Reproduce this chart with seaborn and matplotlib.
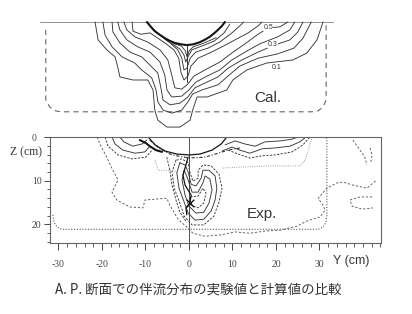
import matplotlib
matplotlib.use("Agg")
import matplotlib.pyplot as plt
import seaborn as sns

sns.set_theme(style="white")
plt.rcParams['font.family'] = ['Liberation Serif', 'DejaVu Serif']

INK = '#363636'
GREY = '#5a5a5a'
LIGHT = '#8f8f8f'

# ---------------- Calculated panel (Y, Z in cm) ----------------
cal_hull_y = [-9.4, -8.5, -7.6, -6.5, -5.3, -4.2, -3.0, -1.6, -0.2, 1.3, 2.8, 4.0, 5.0, 6.0, 6.9, 7.8, 8.5]
cal_hull_z = [0, 1.1, 2.1, 2.9, 3.7, 4.3, 4.8, 5.1, 5.3, 5.1, 4.6, 4.0, 3.4, 2.6, 1.8, 0.9, 0]

cal_c1_y = [-21.3, -20.6, -18.6, -16.7, -16.1, -15.6, -12.6, -9.2, -8.0, -7.6, -6.9, -4.8, -1.8, 0.5, 1.1, 2.1, 4.4, 8.9, 10.3, 13.5, 18.1, 24.1, 27.3, 29.6, 31.0]
cal_c1_z = [0, 4.1, 6.4, 8.0, 10.3, 12.6, 13.3, 13.3, 15.6, 20.2, 22.5, 24.1, 24.1, 22.5, 20.2, 17.2, 17.2, 15.6, 13.3, 11.0, 9.4, 8.7, 7.1, 4.1, 0]

cal_c2_y = [-19.5, -19.0, -17.4, -15.1, -12.2, -10.6, -8.3, -7.3, -6.9, -5.7, -3.7, -1.4, 0, 1.1, 3.2, 6.9, 9.2, 11.9, 16.1, 20.6, 24.3, 26.4, 28.3]
cal_c2_z = [0, 3.0, 5.7, 8.0, 9.4, 11.0, 12.8, 15.6, 18.3, 20.2, 20.9, 20.2, 18.3, 16.5, 15.6, 14.4, 12.4, 10.1, 8.3, 7.3, 6.0, 3.7, 0]

cal_c3_y = [-17.4, -17.2, -15.6, -13.3, -10.6, -8.7, -6.9, -6.2, -5.7, -4.1, -1.8, 0, 1.6, 3.9, 6.9, 9.2, 12.4, 16.1, 19.3, 23.4, 25.2, 26.4]
cal_c3_z = [0, 2.3, 4.8, 6.9, 8.0, 9.9, 11.7, 15.1, 17.9, 19.0, 18.6, 17.2, 15.1, 14.0, 12.6, 10.6, 8.7, 6.9, 5.5, 4.1, 2.3, 0]

cal_c4_y = [-16.1, -15.6, -14.0, -11.5, -8.7, -6.4, -5.3, -4.8, -3.7, -1.4, 0.2, 1.8, 4.4, 7.3, 10.1, 13.1, 16.5, 20.6, 23.4, 24.5]
cal_c4_z = [0, 1.8, 4.1, 5.7, 6.9, 9.2, 12.2, 15.6, 17.2, 17.0, 15.6, 13.8, 12.4, 11.0, 8.7, 6.9, 5.0, 3.4, 1.8, 0]

cal_c5_y = [-14.7, -14.0, -12.2, -9.2, -6.4, -4.6, -3.7, -3.0, -1.4, 0, 1.4, 3.9, 7.3, 10.1, 13.1, 16.1, 18.3, 21.1, 22.9]
cal_c5_z = [0, 1.8, 3.4, 4.6, 6.4, 8.7, 12.2, 15.1, 15.4, 14.2, 12.4, 11.0, 9.2, 7.1, 5.0, 2.8, 1.4, 1.1, 0]

cal_c6_y = [-12.8, -12.6, -10.8, -8.7, -6.9, -5.0, -3.2, -2.1, -1.6, -0.9, 0, 0.7, 2.3, 5.0, 7.8, 10.8, 13.8, 16.1, 17.0]
cal_c6_z = [0, 2.1, 2.8, 2.5, 3.7, 5.0, 6.4, 8.3, 11.5, 13.3, 12.4, 10.1, 8.3, 7.1, 5.7, 4.1, 2.5, 0.9, 0]

cal_c7_y = [-8.3, -6.4, -4.1, -2.3, -1.4, -0.9, -0.2, 0.5, 1.8, 4.6, 7.3, 10.1, 11.9, 12.8]
cal_c7_z = [1.4, 3.0, 4.8, 6.4, 8.3, 11.0, 10.6, 8.3, 6.9, 6.0, 4.6, 2.5, 0.9, 0]

cal_c8_y = [-5.3, -3.7, -1.8, -0.9, -0.5, 0, 0.9, 3.2, 6.0, 8.3, 9.6]
cal_c8_z = [3.9, 5.0, 6.2, 7.6, 9.2, 8.0, 6.4, 5.5, 4.4, 2.5, 0.5]

cal_c9_y = [-3.5, -1.5, -0.6, -0.2, 0.3, 1.2, 3.5, 6.5]
cal_c9_z = [4.9, 5.5, 6.6, 8.0, 6.6, 5.7, 4.9, 3.6]

cal_center_y = [-0.2, -0.2]
cal_center_z = [5.3, 13.8]

cal_box_y = [-32.6, -32.6, -31.7, -30.3, -28.9, 28.4, 29.8, 31.0, 31.7, 31.7]
cal_box_z = [1.8, 17.9, 19.5, 20.4, 20.6, 20.6, 20.4, 19.5, 17.9, 0]

cal_top_y = [-34.0, 33.3]
cal_top_z = [0, 0]

cal_labels = ['0.5', '0.3', '0.1']
cal_label_y = [18.4, 19.4, 20.4]
cal_label_z = [1.2, 5.2, 10.4]

# ---------------- Experimental panel (Y, Z in cm) ----------------
exp_hull_y = [-9.4, -7.8, -5.5, -2.8, 0, 2.5, 5.3, 7.4, 8.7]
exp_hull_z = [0, 1.8, 3.2, 3.9, 4.1, 3.9, 3.0, 1.6, 0]

exp_under_y = [-9.0, -6.7, -3.9, 0, 3.7, 6.7, 9.0, 11.7]
exp_under_z = [0.7, 2.7, 4.1, 4.8, 4.6, 3.7, 3.0, 2.5]

exp_l1_y = [-17.7, -17.0, -15.2, -12.4, -10.1, -9.0]
exp_l1_z = [0, 1.6, 3.0, 3.7, 3.4, 2.1]
exp_l2_y = [-19.3, -18.6, -16.3, -13.1, -9.9, -8.5]
exp_l2_z = [0, 2.1, 4.1, 5.0, 4.6, 3.0]
exp_l3_y = [-15.9, -15.0, -12.9, -10.8, -9.7]
exp_l3_z = [0, 1.1, 2.1, 1.6, 0.7]
exp_jag_y = [-11.3, -9.9, -9.0, -7.6, -6.2]
exp_jag_z = [0.7, 1.4, 2.1, 3.0, 3.4]

exp_big_y = [-21.1, -20.4, -18.9, -17.5, -16.3, -17.7, -16.6, -13.6, -10.6, -10.1, -5.1, -4.4, -2.5, -0.5,
             0.9, 3.7, 7.1, 10.6, 14.0, 17.5, 20.9, 24.8, 27.1, 30.1, 31.3, 30.8, 29.7, 31.7, 34.0, 35.4,
             37.7, 40.9, 43.2]
exp_big_z = [0, 1.8, 4.6, 7.6, 9.8, 12.6, 14.4, 16.0, 16.2, 14.4, 14.0, 15.6, 18.8, 20.6,
             22.0, 22.7, 22.4, 21.7, 22.0, 21.5, 21.3, 20.4, 19.2, 18.3, 16.7, 15.6, 14.0, 11.7, 10.5, 10.3,
             11.0, 11.7, 9.8]

exp_k1_y = [-3.0, -3.9, -3.4, -2.1, -1.1, 0.7, 3.4, 5.7, 6.9, 7.6, 6.9, 5.1, 3.2, 2.1, 2.1, 0.9, 0.2, -0.2, -1.6, -3.0]
exp_k1_z = [5.3, 8.0, 11.7, 15.1, 18.1, 20.1, 20.1, 18.1, 14.9, 11.7, 8.5, 6.6, 6.4, 7.6, 9.4, 10.1, 8.0, 5.9, 5.0, 5.3]
exp_k2_y = [-2.1, -2.8, -2.3, -1.1, -0.2, 1.4, 3.4, 5.1, 6.0, 6.4, 6.0, 4.6, 3.2, 2.8, 1.6, 0.5, -0.2, -0.9, -2.1]
exp_k2_z = [5.9, 8.2, 11.7, 14.9, 17.4, 19.0, 18.8, 16.9, 14.4, 11.7, 8.9, 7.6, 7.6, 9.4, 11.2, 10.8, 8.0, 6.4, 5.9]
exp_k3_y = [-1.1, -1.6, -0.9, 0, 1.6, 3.4, 4.6, 5.3, 4.8, 3.7, 3.2, 2.1, 0.7, -0.2, -1.1]
exp_k3_z = [7.6, 9.8, 13.3, 15.8, 17.4, 17.2, 15.1, 12.1, 9.6, 8.9, 10.5, 12.6, 12.6, 9.8, 7.6]
exp_k4_y = [0.2, 0.5, 2.1, 3.4, 3.9, 3.2, 2.1, 0.2]
exp_k4_z = [13.7, 15.6, 16.2, 15.1, 12.8, 11.7, 13.5, 13.7]

exp_wavy_y = [-0.2, -0.7, -1.4, -0.9, 0.5, 0.2, -0.7, -0.5]
exp_wavy_z = [4.6, 6.4, 8.7, 11.0, 13.3, 15.1, 16.2, 17.8]
exp_ldash_y = [-5.1, -4.4, -3.9, -3.0, -2.1, -0.5]
exp_ldash_z = [4.6, 7.6, 11.0, 14.4, 17.2, 19.5]

exp_r1_y = [7.6, 9.9, 11.7, 14.0, 16.8, 19.8, 23.2, 25.5, 26.9]
exp_r1_z = [3.2, 2.3, 3.0, 3.7, 2.7, 2.5, 2.1, 1.1, 0]
exp_r2_y = [8.3, 10.6, 12.9, 15.2, 17.5, 20.9, 23.7, 25.1]
exp_r2_z = [1.8, 0.9, 1.6, 2.1, 1.1, 0.9, 0.5, 0]
exp_r3_y = [9.0, 11.3, 14.0, 16.8, 19.8, 23.7, 26.2, 27.8]
exp_r3_z = [3.0, 3.9, 4.8, 4.3, 4.1, 3.4, 1.8, 0]
exp_r4_y = [7.8, 11.7, 18.6, 25.5, 26.7, 27.4, 28.3]
exp_r4_z = [7.1, 6.9, 6.6, 6.6, 5.3, 3.0, 0]
exp_ldot_y = [-7.8, -7.1, -4.4, -2.5]
exp_ldot_z = [5.3, 7.6, 7.6, 8.0]

exp_fr1_y = [37.7, 39.3, 40.4, 40.9]
exp_fr1_z = [0.7, 3.0, 4.6, 6.4]
exp_fr2_y = [41.6, 42.1, 41.8]
exp_fr2_z = [2.5, 4.1, 5.7]
exp_fr3_y = [42.1, 39.3, 37.0, 37.5, 39.8, 42.3]
exp_fr3_z = [13.7, 13.7, 14.4, 15.8, 16.5, 16.2]

exp_box_y = [-31.3, -31.0, -30.3, -29.2, 29.7, 30.8, 31.5, 31.7, 31.7]
exp_box_z = [17.8, 19.5, 20.6, 21.1, 21.1, 20.6, 19.5, 17.8, 0]

exp_cross_y = [0.2]
exp_cross_z = [15.1]

x_major = [-30, -20, -10, 0, 10, 20, 30]
x_labels = ['-30', '-20', '-10', '0', '10', '20', '30']
z_major = [0, 10, 20]
z_labels = ['0', '10', '20']

caption = 'A. P. 断面での伴流分布の実験値と計算値の比較'


def draw(ax, ys, zs, ls='-', lw=0.65, color=INK):
    sns.lineplot(x=ys, y=zs, sort=False, estimator=None, ax=ax, color=color,
                 linewidth=lw, linestyle=ls, legend=False)


fig = plt.figure(figsize=(4.12, 3.14), dpi=100)
fig.patch.set_facecolor('white')

# ---------- upper (Cal.) ----------
axc = fig.add_axes([0.0, 1 - 134 / 314, 1.0, 134 / 314])
draw(axc, cal_top_y, cal_top_z, lw=0.7, color=LIGHT)
draw(axc, cal_box_y, cal_box_z, ls=(0, (5, 4)), lw=0.75, color=GREY)
for ys, zs in [(cal_c1_y, cal_c1_z), (cal_c2_y, cal_c2_z), (cal_c3_y, cal_c3_z),
               (cal_c4_y, cal_c4_z), (cal_c5_y, cal_c5_z), (cal_c6_y, cal_c6_z),
               (cal_c7_y, cal_c7_z), (cal_c8_y, cal_c8_z), (cal_c9_y, cal_c9_z)]:
    draw(axc, ys, zs, lw=0.65)
draw(axc, cal_center_y, cal_center_z, lw=0.7)
draw(axc, cal_hull_y, cal_hull_z, lw=1.5, color='#151515')
for t, y, z in zip(cal_labels, cal_label_y, cal_label_z):
    bb = dict(facecolor='white', edgecolor='none', pad=0.2) if t != '0.1' else None
    axc.text(y, z, t, fontsize=5, ha='center', va='center', color=INK,
             family=['Liberation Sans'], bbox=bb)
axc.text(18.3, 17.4, 'Cal.', fontsize=11, ha='center', va='center', color=INK,
         family=['Liberation Sans'])
axc.set_xlim(-43.1, 51.4)
axc.set_ylim(25.69, -5.05)
axc.axis('off')

# ---------- lower (Exp.) ----------
axe = fig.add_axes([50 / 412, 1 - 243.3 / 314, 331 / 412, 106.6 / 314])
axe.axvline(0, color=INK, lw=0.6)
draw(axe, exp_box_y, exp_box_z, ls=(0, (1, 1.5)), lw=0.8, color=GREY)
draw(axe, exp_big_y, exp_big_z, ls=(0, (2.5, 2)), lw=0.65, color=GREY)
draw(axe, exp_under_y, exp_under_z, ls=(0, (3, 1.5, 1, 1.5)), lw=0.8, color=INK)
draw(axe, exp_l1_y, exp_l1_z)
draw(axe, exp_l2_y, exp_l2_z, ls=(0, (2.5, 1.5)))
draw(axe, exp_l3_y, exp_l3_z)
draw(axe, exp_jag_y, exp_jag_z, lw=1.5, color='#151515')
draw(axe, exp_k1_y, exp_k1_z, ls=(0, (2.5, 1.5)))
draw(axe, exp_k2_y, exp_k2_z)
draw(axe, exp_k3_y, exp_k3_z)
draw(axe, exp_k4_y, exp_k4_z, ls=(0, (2.5, 1.5)))
draw(axe, exp_wavy_y, exp_wavy_z, lw=0.9, color='#151515')
draw(axe, exp_ldash_y, exp_ldash_z, ls=(0, (2.5, 1.5)))
draw(axe, exp_r1_y, exp_r1_z)
draw(axe, exp_r2_y, exp_r2_z)
draw(axe, exp_r3_y, exp_r3_z, ls=(0, (2.5, 1.5)))
draw(axe, exp_r4_y, exp_r4_z, ls=(0, (1, 1.5)), color=LIGHT)
draw(axe, exp_ldot_y, exp_ldot_z, ls=(0, (1, 1.5)), color=LIGHT)
draw(axe, exp_fr1_y, exp_fr1_z, ls=(0, (2.5, 2)), color=GREY)
draw(axe, exp_fr2_y, exp_fr2_z, ls=(0, (2.5, 2)), color=GREY)
draw(axe, exp_fr3_y, exp_fr3_z, ls=(0, (2.5, 2)), color=GREY)
draw(axe, exp_hull_y, exp_hull_z, lw=0.9, color='#151515')
sns.scatterplot(x=exp_cross_y, y=exp_cross_z, marker='x', s=30, color='#151515',
                linewidth=1.0, ax=axe, legend=False)
axe.text(16.8, 17.6, 'Exp.', fontsize=11, ha='center', va='center', color=INK,
         family=['Liberation Sans'])

axe.set_xlim(-31.95, 44.14)
axe.set_ylim(24.3, -0.07)
axe.set_xticks(x_major)
axe.set_xticklabels(x_labels)
axe.set_xticks(list(range(-30, 45, 2)), minor=True)
axe.set_yticks(z_major)
axe.set_yticklabels(z_labels)
axe.set_yticks(list(range(0, 25, 2)), minor=True)
axe.tick_params(axis='x', which='major', direction='out', length=5, width=0.7,
                colors='#444444', labelsize=7, pad=7, bottom=True)
axe.tick_params(axis='x', which='minor', direction='out', length=3, width=0.6,
                colors='#444444', bottom=True)
axe.tick_params(axis='y', which='major', direction='out', length=4, width=0.7,
                colors='#444444', labelsize=7, pad=9, left=True)
axe.tick_params(axis='y', which='minor', direction='out', length=2.5, width=0.6,
                colors='#444444', left=True)
for lab in axe.get_yticklabels():
    lab.set_horizontalalignment('left')
for sp in axe.spines.values():
    sp.set_color('#666666')
    sp.set_linewidth(0.8)
axe.set_xlabel('')
axe.set_ylabel('')
axe.text(-0.121, 0.856, 'Z (cm)', transform=axe.transAxes, fontsize=8.5,
         ha='left', va='center', color=INK)
axe.text(0.855, -0.166, 'Y (cm)', transform=axe.transAxes, fontsize=9,
         ha='left', va='center', color=INK, family=['Liberation Sans'])

fig.text(0.482, 0.0764, caption, fontsize=9.7, ha='center', va='center', color='#333333',
         family=['Noto Sans CJK JP', 'DejaVu Sans'])

fig.savefig('out.png', dpi=100, facecolor='white')
